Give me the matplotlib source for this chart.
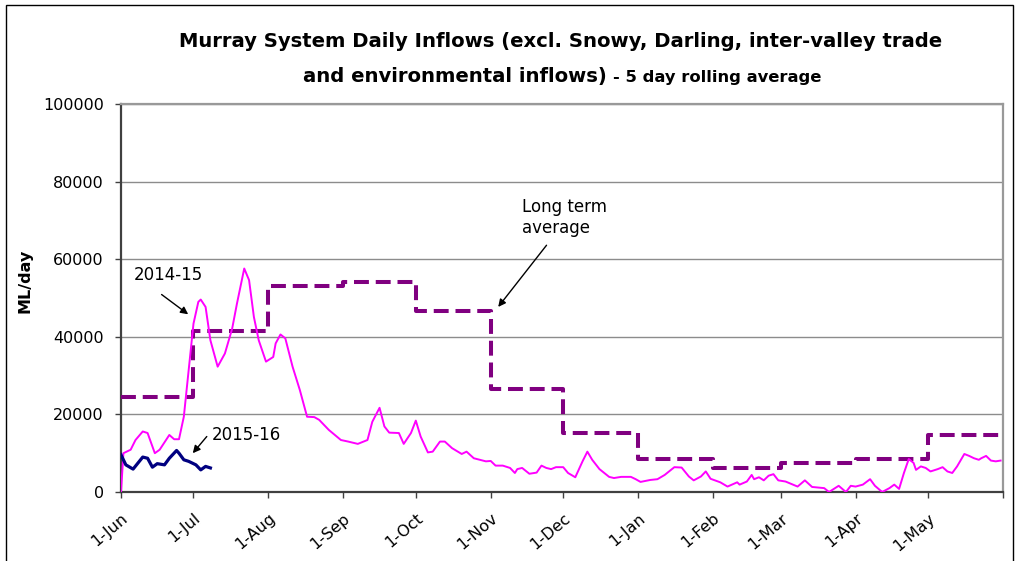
import numpy as np
import matplotlib
matplotlib.use("Agg")
import matplotlib.pyplot as plt
import matplotlib.transforms as mtransforms
from matplotlib.patches import Rectangle

plt.rcParams['font.family'] = ['DejaVu Sans']

# day 0 = 1 June
month_days = [0, 30, 61, 92, 122, 153, 183, 214, 245, 273, 304, 334, 365]
month_labels = ['1-Jun', '1-Jul', '1-Aug', '1-Sep', '1-Oct', '1-Nov', '1-Dec',
                '1-Jan', '1-Feb', '1-Mar', '1-Apr', '1-May', '']

# long term average, one value per month (Jun..May)
lta_values = [24500, 41500, 53100, 54000, 46600, 26500, 15200,
              8500, 6200, 7500, 8500, 14700]

# 2014-15 inflows (5 day rolling average)
days_1415 = [0, 1, 4, 6, 9, 11, 14, 16, 20, 22, 24, 26, 28, 30, 32, 33, 35, 37,
             40, 43, 46, 48, 51, 53, 55, 57, 60, 63, 64, 66, 68, 71, 74, 77, 80,
             82, 86, 91, 94, 98, 102, 104, 107, 109, 111, 115, 117, 120, 122,
             124, 127, 129, 132, 134, 137, 141, 143, 146, 151, 153, 155, 158,
             161, 163, 164, 166, 169, 172, 174, 176, 178, 180, 183, 185, 188,
             191, 193, 195, 198, 202, 204, 207, 211, 213, 215, 219, 222, 225,
             229, 232, 235, 237, 240, 242, 244, 248, 251, 255, 256, 259, 261,
             262, 264, 266, 268, 270, 272, 275, 280, 283, 286, 291, 293, 297,
             300, 302, 304, 307, 310, 312, 315, 318, 320, 322, 324, 326, 328,
             329, 331, 333, 335, 338, 340, 342, 344, 346, 349, 351, 353, 355,
             356, 358, 360, 362, 364]
flow_1415 = [0, 10000, 10900, 13400, 15600, 15200, 10000, 10900, 14700, 13600,
             13600, 19400, 31400, 43400, 49000, 49600, 47700, 39100, 32300,
             35700, 42100, 48600, 57600, 54600, 45100, 39100, 33600, 34800,
             38300, 40600, 39600, 32300, 26300, 19400, 19300, 18600, 16000,
             13400, 13000, 12400, 13400, 18100, 21700, 16900, 15300, 15200,
             12400, 15200, 18400, 14300, 10200, 10400, 13000, 13000, 11300,
             9800, 10400, 8700, 7900, 8000, 6800, 6800, 6200, 4900, 5900, 6200,
             4700, 5000, 6800, 6200, 5900, 6400, 6400, 4900, 3800, 7900, 10400,
             8300, 5900, 3900, 3600, 3900, 3900, 3300, 2600, 3100, 3300, 4400,
             6400, 6300, 4000, 3000, 4000, 5300, 3400, 2500, 1400, 2500, 1900,
             2700, 4400, 3300, 3800, 3000, 4200, 4600, 3000, 2700, 1400, 3000,
             1300, 1000, 0, 1600, 0, 1600, 1400, 1900, 3300, 1600, 0, 1000,
             1900, 800, 4900, 8500, 7500, 5700, 6600, 6200, 5300, 5900, 6400,
             5300, 4900, 6600, 9800, 9300, 8700, 8300, 8700, 9300, 8100, 7900,
             8100]

# 2015-16 inflows so far
days_1516 = [0, 2, 5, 9, 11, 13, 15, 18, 20, 23, 24, 26, 28, 31, 33, 35, 37]
flow_1516 = [9600, 7000, 5900, 9000, 8700, 6400, 7300, 7000, 8700, 10700,
             10000, 8300, 7900, 7000, 5700, 6600, 6200]

W, H = 1019, 561
fig = plt.figure(figsize=(W / 100, H / 100), dpi=100)
ax = fig.add_axes([121 / W, 1 - 492 / H, (1003 - 121) / W, (492 - 104) / H])

# long term average as monthly steps
lta_x = month_days[:-1] + [364]
lta_y = lta_values + [lta_values[-1]]
ax.step(lta_x, lta_y, where='post', color='#800080', lw=2.9,
        dashes=(3.7, 1.7), zorder=3)
ax.plot(days_1415, flow_1415, color='#ff00ff', lw=1.4, zorder=4)
ax.plot(days_1516, flow_1516, color='#000080', lw=2.3, zorder=5)

ax.set_xlim(0, 365)
ax.set_ylim(0, 100000)
ax.set_yticks(np.arange(0, 100001, 20000))
ax.yaxis.grid(True, color='#8c8c8c', lw=1)
ax.set_axisbelow(True)

ax.set_xticks(month_days)
ax.set_xticklabels(month_labels, rotation=40, ha='right', va='top',
                   rotation_mode='anchor', fontsize=11.5)
shift = mtransforms.ScaledTranslation(5 / 100, 0, fig.dpi_scale_trans)
for lbl in ax.get_xticklabels():
    lbl.set_transform(lbl.get_transform() + shift)

ax.tick_params(axis='y', labelsize=11.5, length=4.3, width=1, color='#404040', pad=8)
ax.tick_params(axis='x', length=4.3, width=1, color='#404040', pad=9)
for s in ['left', 'bottom']:
    ax.spines[s].set_color('#404040')
    ax.spines[s].set_linewidth(1.6)
for s in ['top', 'right']:
    ax.spines[s].set_color('#999999')
    ax.spines[s].set_linewidth(1.6)

ax.set_ylabel('ML/day', fontsize=11.5, fontweight='bold')
ax.yaxis.set_label_coords(-0.1, 0.545)

arrow = dict(arrowstyle='-|>', color='black', lw=1, mutation_scale=11,
             shrinkA=0, shrinkB=0)
ax.annotate('', xy=(27.8, 45800), xytext=(16.8, 50900), arrowprops=arrow)
ax.text(19.4, 55800, '2014-15', fontsize=12, ha='center', va='center')
ax.annotate('', xy=(29.7, 10000), xytext=(35.5, 14300), arrowprops=arrow)
ax.text(37.6, 14700, '2015-16', fontsize=12, ha='left', va='center')
ax.annotate('', xy=(156.1, 47700), xytext=(176.1, 63600), arrowprops=arrow)
ax.text(165.9, 75800, 'Long term\naverage', fontsize=12, ha='left', va='top',
        linespacing=1.2)

fig.text(561 / W, 1 - 47 / H,
         'Murray System Daily Inflows (excl. Snowy, Darling, inter-valley trade',
         ha='center', va='baseline', fontsize=14.1, fontweight='bold')
fig.text(607 / W, 1 - 82 / H, 'and environmental inflows)',
         ha='right', va='baseline', fontsize=14.1, fontweight='bold')
fig.text(613 / W, 1 - 82 / H, '- 5 day rolling average',
         ha='left', va='baseline', fontsize=11.8, fontweight='bold')

fig.add_artist(Rectangle((6 / W, -0.1), (1013 - 6) / W, (H - 5) / H + 0.1,
                         transform=fig.transFigure, fill=False,
                         ec='black', lw=1))

fig.savefig('out.png', dpi=100)
